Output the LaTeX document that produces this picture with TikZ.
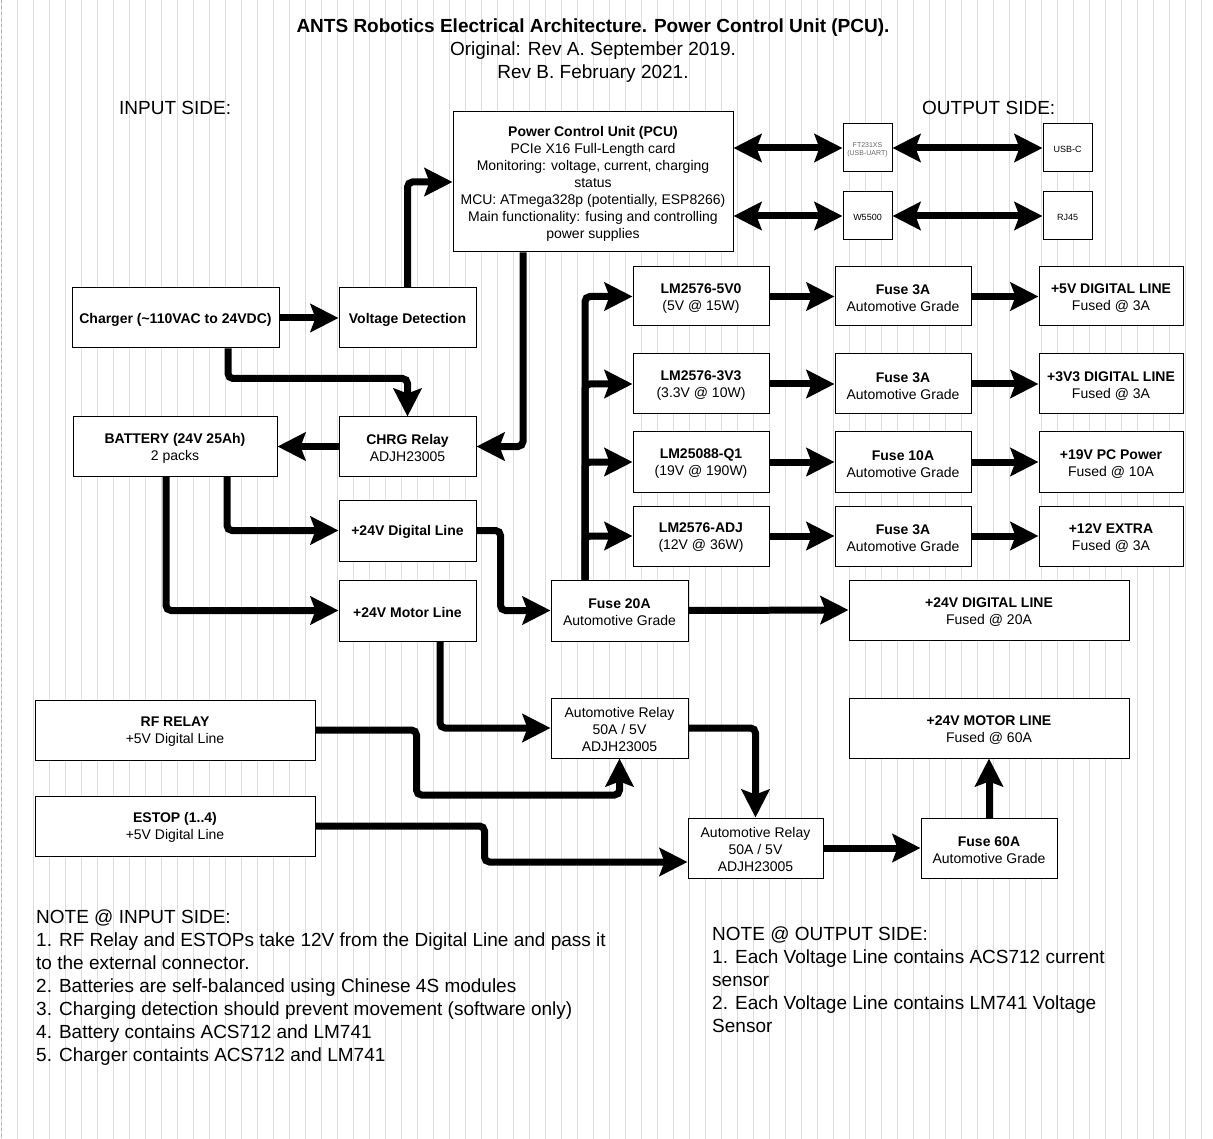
\documentclass[tikz,border=0pt]{standalone}
\usepackage{fontspec}
\setmainfont{Liberation Sans}
\usetikzlibrary{arrows.meta,calc}
\definecolor{gridmaj}{HTML}{DEDEDE}
\tikzset{
  boxshape/.style={draw=black, line width=1pt, fill=white, inner sep=0pt},
  boxtext/.style={align=center, inner sep=0pt, font=\fontsize{14}{17}\selectfont},
  tinytext/.style={align=center, inner sep=0pt, font=\fontsize{7}{8.5}\selectfont, text=black!60},
  smalltext/.style={align=center, inner sep=0pt, font=\fontsize{9}{11}\selectfont},
  conn/.style={line width=7pt, rounded corners=5pt, -{Stealth[length=28pt,width=28pt,inset=5pt]}},
  dconn/.style={line width=7pt, {Stealth[length=28pt,width=28pt,inset=5pt]}-{Stealth[length=28pt,width=28pt,inset=5pt]}},
  big/.style={font=\fontsize{19}{23}\selectfont, inner sep=0pt},
}
% \bx[text style]{name}{x1}{y1}{x2}{y2}{text}
\newcommand\bx[7][boxtext]{\node[boxshape, minimum width={#5-#3}, minimum height={#6-#4}] (#2) at ({(#3+#5)/2},{(#4+#6)/2}) {};
  \node[#1] (#2-t) at ([yshift=-1.8pt]#2.center) {#7};}
\begin{document}
\begin{tikzpicture}[x=1pt,y=-1pt]
\useasboundingbox (0,0) rectangle (1213,1139);
\fill[white] (0,0) rectangle (1213,1139);
\begin{scope}[shift={(1,2)}]
\draw[gridmaj, line width=1pt, step=16] (-1,-2) grid (1212,1137);
\end{scope}
\draw[gray!60, dashed, line width=0.8pt] (1,0) -- (1,1139);

% title
\node[big, align=center, anchor=north] (title) at (593,19) {\textbf{ANTS Robotics Electrical Architecture. Power Control Unit (PCU).}\\Original: Rev A. September 2019.\\Rev B. February 2021.};
\node[big, anchor=base west] (inl) at (119,115) {INPUT SIDE:};
\node[big, anchor=base west] (outl) at (922,115) {OUTPUT SIDE:};

% boxes
\bx{pcu}{453}{112}{733}{252}{\textbf{Power Control Unit (PCU)}\\PCIe X16 Full-Length card\\Monitoring: voltage, current, charging\\status\\MCU: ATmega328p (potentially, ESP8266)\\Main functionality: fusing and controlling\\power supplies}
\bx[tinytext]{ft}{843}{124}{892}{172}{FT231XS\\(USB-UART)}
\bx[smalltext]{usbc}{1043}{124}{1092}{172}{USB-C}
\bx[smalltext]{w55}{843}{192}{892}{240}{W5500}
\bx[smalltext]{rj}{1043}{192}{1092}{240}{RJ45}
\bx{charger}{72}{288}{279}{348}{\textbf{Charger (\textasciitilde110VAC to 24VDC)}}
\bx{vd}{339}{288}{476}{348}{\textbf{Voltage Detection}}
\bx{bat}{73}{417}{277}{476}{\textbf{BATTERY (24V 25Ah)}\\2 packs}
\bx{crelay}{339}{417}{476}{476}{\textbf{CHRG Relay}\\ADJH23005}
\bx{dline}{339}{500}{476}{561}{\textbf{+24V Digital Line}}
\bx{mline}{339}{580}{476}{641}{\textbf{+24V Motor Line}}
\bx{fuse20}{551}{580}{688}{641}{\textbf{Fuse 20A}\\Automotive Grade}
\bx{dig24}{849}{580}{1129}{640}{\textbf{+24V DIGITAL LINE}\\Fused @ 20A}

\bx{lma}{633}{267}{769}{326}{\textbf{LM2576-5V0}\\(5V @ 15W)}
\bx{fa}{835}{267}{971}{326}{\textbf{Fuse 3A}\\Automotive Grade}
\bx{oa}{1039}{267}{1183}{326}{\textbf{+5V DIGITAL LINE}\\Fused @ 3A}
\bx{lmb}{633}{354}{769}{414}{\textbf{LM2576-3V3}\\(3.3V @ 10W)}
\bx{fb}{835}{354}{971}{414}{\textbf{Fuse 3A}\\Automotive Grade}
\bx{ob}{1039}{354}{1183}{414}{\textbf{+3V3 DIGITAL LINE}\\Fused @ 3A}
\bx{lmc}{633}{432}{769}{492}{\textbf{LM25088-Q1}\\(19V @ 190W)}
\bx{fc}{835}{432}{971}{492}{\textbf{Fuse 10A}\\Automotive Grade}
\bx{oc}{1039}{432}{1183}{492}{\textbf{+19V PC Power}\\Fused @ 10A}
\bx{lmd}{633}{506}{769}{566}{\textbf{LM2576-ADJ}\\(12V @ 36W)}
\bx{fd}{835}{506}{971}{566}{\textbf{Fuse 3A}\\Automotive Grade}
\bx{od}{1039}{506}{1183}{566}{\textbf{+12V EXTRA}\\Fused @ 3A}

\bx{rf}{35}{700}{315}{760}{\textbf{RF RELAY}\\+5V Digital Line}
\bx{estop}{35}{796}{315}{856}{\textbf{ESTOP (1..4)}\\+5V Digital Line}
\bx{ar1}{551}{698}{688}{758}{Automotive Relay\\50A / 5V\\ADJH23005}
\bx{ar2}{688}{818}{823}{878}{Automotive Relay\\50A / 5V\\ADJH23005}
\bx{mot}{849}{698}{1129}{758}{\textbf{+24V MOTOR LINE}\\Fused @ 60A}
\bx{f60}{921}{818}{1057}{878}{\textbf{Fuse 60A}\\Automotive Grade}

% bend points
\coordinate (rfbend) at ([xshift=101pt]rf.east);
\coordinate (esbend) at ([xshift=169pt]estop.east);
\coordinate (dlbend) at ([xshift=24pt]dline.east);
\coordinate (chbend) at ([xshift=52.5pt,yshift=-30pt]charger.south);

% connectors
\draw[conn] (charger.east) -- (vd.west);
\draw[conn] (vd.north) |- (pcu.west);
\draw[conn] ([xshift=52.5pt]charger.south) -- (chbend) -| (crelay.north);
\draw[conn] ([xshift=-70pt]pcu.south) |- (crelay.east);
\draw[conn] (crelay.west) -- (bat.east);
\draw[conn] ([xshift=52pt]bat.south) |- (dline.west);
\draw[conn] ([xshift=-9pt]bat.south) |- (mline.west);
\draw[conn] (dline.east) -- (dlbend) |- (fuse20.west);
\draw[conn] (fuse20.east) -- (dig24.west);
\foreach \t in {lma,lmb,lmc,lmd} \draw[conn] ([xshift=-34.5pt]fuse20.north) |- (\t.west);
\foreach \a/\b/\c in {lma/fa/oa,lmb/fb/ob,lmc/fc/oc,lmd/fd/od}{
  \draw[conn] (\a.east) -- (\b.west);
  \draw[conn] (\b.east) -- (\c.west);
}
\draw[dconn] (pcu.east |- ft.west) -- (ft.west);
\draw[dconn] (ft.east) -- (usbc.west);
\draw[dconn] (pcu.east |- w55.west) -- (w55.west);
\draw[dconn] (w55.east) -- (rj.west);
\draw[conn] ([xshift=32.5pt]mline.south) |- (ar1.west);
\draw[conn] (rf.east) -- (rfbend) -- ([yshift=-65pt]rfbend) -| (ar1.south);
\draw[conn] (ar1.east) -| (ar2.north);
\draw[conn] (estop.east) -- (esbend) |- ([yshift=-14pt]ar2.west);
\draw[conn] (ar2.east) -- (f60.west);
\draw[conn] (f60.north) -- (mot.south);

% notes
\node[big, align=left, anchor=north west] (n1) at (36,910) {NOTE @ INPUT SIDE:\\1. RF Relay and ESTOPs take 12V from the Digital Line and pass it\\to the external connector.\\2. Batteries are self-balanced using Chinese 4S modules\\3. Charging detection should prevent movement (software only)\\4. Battery contains ACS712 and LM741\\5. Charger containts ACS712 and LM741};
\node[big, align=left, anchor=north west] (n2) at (712,927) {NOTE @ OUTPUT SIDE:\\1. Each Voltage Line contains ACS712 current\\sensor\\2. Each Voltage Line contains LM741 Voltage\\Sensor};
\end{tikzpicture}
\end{document}
